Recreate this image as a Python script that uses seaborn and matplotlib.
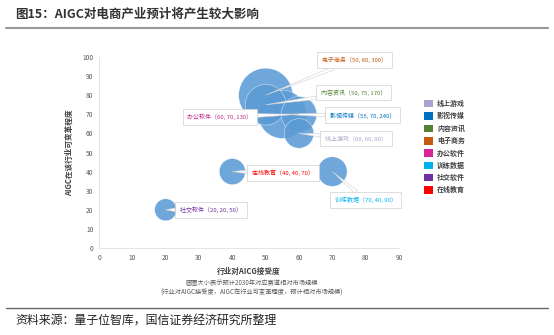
import matplotlib
matplotlib.use("Agg")
import matplotlib.pyplot as plt
import seaborn as sns
import pandas as pd
from matplotlib.patches import Patch
from matplotlib.lines import Line2D

sns.set_theme(style="white")
plt.rcParams['font.family'] = ['Noto Sans CJK SC', 'DejaVu Sans']

# ---- data ----
names = ["电子商务", "影视传媒", "内容资讯", "办公软件", "线上游戏", "训练数据", "在线教育", "社交软件"]
acceptance = [50, 55, 50, 60, 60, 70, 40, 20]
transform = [80, 70, 75, 70, 60, 40, 40, 20]
market = [300, 240, 170, 130, 90, 90, 70, 50]
label_colors = ["#c55a11", "#0070c0", "#548235", "#c0288a", "#a5a5c8", "#00b0f0", "#ff0000", "#7030a0"]

legend_names = ["线上游戏", "影视传媒", "内容资讯", "电子商务", "办公软件", "训练数据", "社交软件", "在线教育"]
legend_colors = ["#a5a5d0", "#0070c0", "#548235", "#c55a11", "#d6249a", "#00b0f0", "#7030a0", "#ff0000"]

x_ticks = list(range(0, 100, 10))
y_ticks = list(range(0, 110, 10))

df = pd.DataFrame({"name": names, "x": acceptance, "y": transform, "s": market})

# label box positions (data coords), layout only
label_pos = {
    "电子商务": (76.6, 98.4),
    "影视传媒": (79.1, 69.4),
    "内容资讯": (76.4, 81.4),
    "办公软件": (36.3, 68.8),
    "线上游戏": (77.1, 57.3),
    "训练数据": (80.0, 25.1),
    "在线教育": (55.2, 39.5),
    "社交软件": (33.6, 19.9),
}

W, H = 554, 335
fig = plt.figure(figsize=(W / 100, H / 100), dpi=100)
ax = fig.add_axes([99 / W, (H - 248) / H, 300 / W, 191 / H])

sns.scatterplot(data=df, x="x", y="y", size="s", sizes=(5.04 * 50, 5.04 * 300),
                size_norm=(50, 300), color="#5b9bd5", alpha=0.88, edgecolor="#ffffff",
                linewidth=0.3, legend=False, ax=ax, zorder=2)

ax.set_xlim(0, 90)
ax.set_ylim(0, 100)
ax.set_xticks(x_ticks)
ax.set_yticks(y_ticks)
ax.tick_params(axis="both", length=0, labelsize=4.8, labelcolor="#595959", pad=4)
for sp in ["top", "right"]:
    ax.spines[sp].set_visible(False)
for sp in ["left", "bottom"]:
    ax.spines[sp].set_color("#e0e0e0")
    ax.spines[sp].set_linewidth(0.6)
ax.set_xlabel("行业对AICG接受度", fontsize=5.5, color="#404040", fontweight="bold", labelpad=4)
ax.set_ylabel("AIGC在该行业可变革程度", fontsize=5.5, color="#404040", fontweight="bold", labelpad=6)

for n, xv, yv, sv, c in zip(names, acceptance, transform, market, label_colors):
    tx, ty = label_pos[n]
    ax.annotate(f"{n}（{xv}, {yv}, {sv}）", xy=(xv, yv), xytext=(tx, ty),
                textcoords="data", ha="center", va="center", fontsize=4.3, color=c,
                bbox=dict(boxstyle="square,pad=0.8", fc="white", ec="#d0d0d0", lw=0.5),
                arrowprops=dict(arrowstyle="wedge,tail_width=0.6,shrink_factor=0.5", fc="white",
                                ec="#d0d0d0", lw=0.4, shrinkA=0, shrinkB=0),
                zorder=3, annotation_clip=False)

handles = [Patch(facecolor=c, edgecolor="none", label=n) for n, c in zip(legend_names, legend_colors)]
leg = fig.legend(handles=handles, loc="upper left", bbox_to_anchor=(421 / W, 1 - 97 / H),
                 frameon=False, fontsize=5, handlelength=1.3, handleheight=1.3,
                 labelspacing=0.68, handletextpad=0.6, borderaxespad=0)
for t in leg.get_texts():
    t.set_color("#404040")
    t.set_fontweight("bold")

fig.text(252 / W, 1 - 283 / H, "圆圈大小表示预计2030年对应赛道相对市场规模", ha="center", va="center",
         fontsize=4.5, color="#595959")
fig.text(252 / W, 1 - 293 / H, "(行业对AIGC接受度，AIGC在行业可变革程度，预计相对市场规模)", ha="center",
         va="center", fontsize=4.5, color="#595959")

fig.text(15 / W, 1 - 14 / H, "图15：AIGC对电商产业预计将产生较大影响", ha="left", va="center",
         fontsize=9, color="#333333", fontweight="bold")
fig.add_artist(Line2D([6 / W, 548 / W], [1 - 28 / H, 1 - 28 / H], color="#999999", lw=1.5))
fig.add_artist(Line2D([6 / W, 548 / W], [1 - 308 / H, 1 - 308 / H], color="#666666", lw=1.0))
fig.text(15 / W, 1 - 321 / H, "资料来源：量子位智库，国信证券经济研究所整理", ha="left", va="center",
         fontsize=8.6, color="#222222")

fig.savefig("out.png", dpi=100)
